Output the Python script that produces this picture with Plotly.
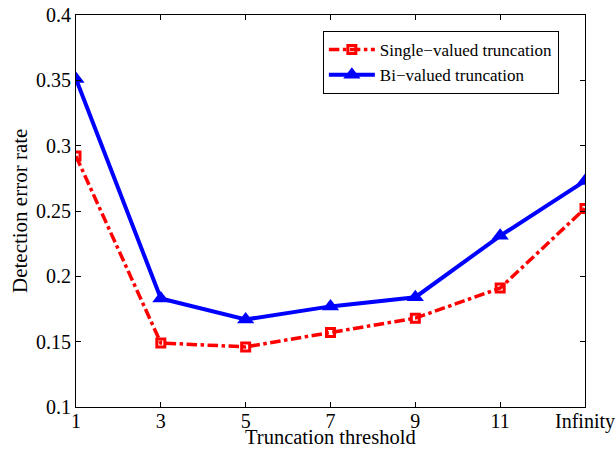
import plotly.graph_objects as go

# Truncation thresholds (categorical x positions)
thresholds = ["1", "3", "5", "7", "9", "11", "Infinity"]

# Detection error rates per truncation scheme
single_valued = [0.292, 0.149, 0.146, 0.157, 0.168, 0.191, 0.252]
bi_valued = [0.351, 0.183, 0.167, 0.177, 0.184, 0.231, 0.273]

y_ticks = [0.1, 0.15, 0.2, 0.25, 0.3, 0.35, 0.4]
y_tick_text = ["0.1", "0.15", "0.2", "0.25", "0.3", "0.35", "0.4"]

xpos = list(range(len(thresholds)))
serif = "Liberation Serif"

fig = go.Figure()

fig.add_trace(go.Scatter(
    x=xpos, y=single_valued, mode="lines+markers",
    name="Single\u2212valued truncation",
    line=dict(color="#ff0000", width=3.5, dash="dashdot"),
    marker=dict(symbol="square-open", size=8, color="#ff0000",
                line=dict(color="#ff0000", width=3)),
))

fig.add_trace(go.Scatter(
    x=xpos, y=bi_valued, mode="lines+markers",
    name="Bi\u2212valued truncation",
    line=dict(color="#0000ff", width=4),
    marker=dict(symbol="triangle-up", size=15, color="#0000ff"),
))

axis_common = dict(
    showgrid=False, zeroline=False, showline=True, linecolor="black",
    linewidth=1.2, mirror="ticks", ticks="inside", ticklen=5,
    tickcolor="black", automargin=False,
    tickfont=dict(family=serif, size=20, color="black"),
)

fig.update_layout(
    width=616, height=449,
    margin=dict(l=76, r=31, t=15, b=42),
    paper_bgcolor="white", plot_bgcolor="white",
    font=dict(family=serif, color="black"),
    xaxis=dict(
        range=[0, len(thresholds) - 1], tickmode="array",
        tickvals=xpos, ticktext=thresholds, ticklabelstandoff=-4,
        **axis_common,
    ),
    yaxis=dict(
        range=[0.1, 0.4], tickmode="array",
        tickvals=y_ticks, ticktext=y_tick_text,
        **axis_common,
    ),
    legend=dict(
        x=0.485, y=0.959, xanchor="left", yanchor="top",
        bgcolor="white", bordercolor="black", borderwidth=1,
        font=dict(family=serif, size=17, color="black"),
        tracegroupgap=0, itemwidth=46,
    ),
    showlegend=True,
    annotations=[
        dict(text="Truncation threshold", xref="paper", yref="paper",
             x=0.5, y=-0.077, xanchor="center", yanchor="middle",
             showarrow=False, font=dict(family=serif, size=20.5)),
        dict(text="Detection error rate", xref="paper", yref="paper",
             x=-0.11, y=0.5, xanchor="center", yanchor="middle",
             textangle=-90, showarrow=False,
             font=dict(family=serif, size=21)),
    ],
)

fig.write_html("out.html")
